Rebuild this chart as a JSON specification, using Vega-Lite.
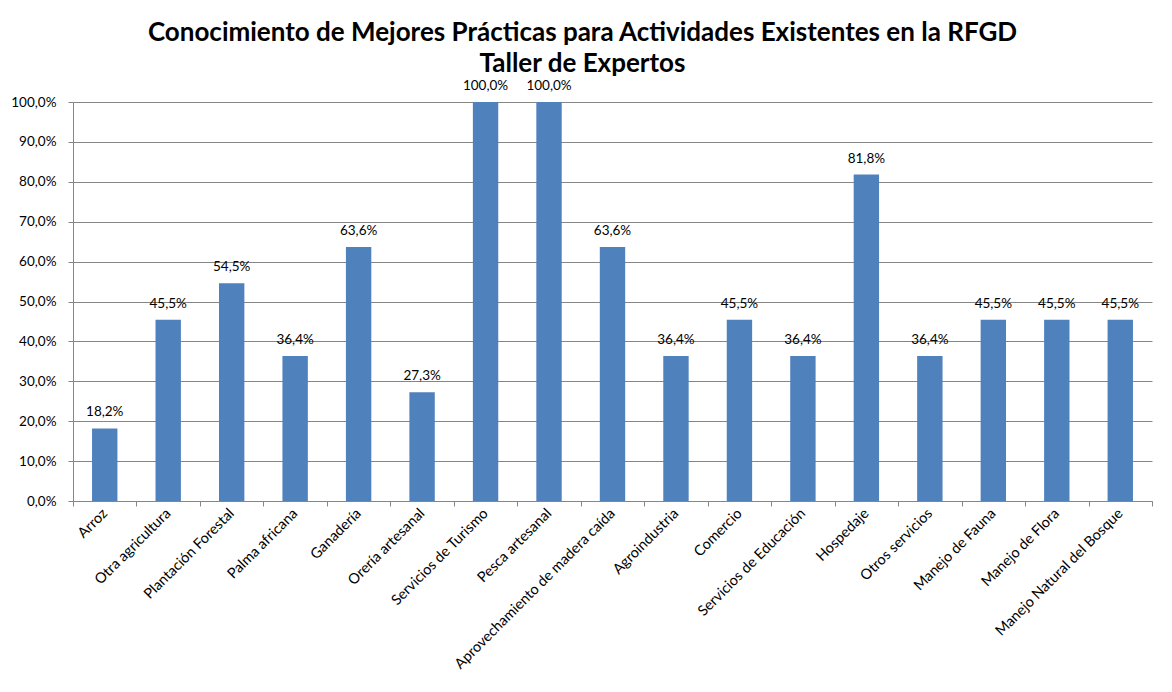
{
  "$schema": "https://vega.github.io/schema/vega-lite/v6.json",
  "width": 1079,
  "height": 399,
  "padding": {"left": 9, "top": 20, "right": 20, "bottom": 5},
  "background": "white",
  "config": {
    "locale": {"number": {"decimal": ",", "thousands": ".", "grouping": [3], "currency": ["", "€"]}},
    "view": {"stroke": null},
    "font": "Lato"
  },
  "title": {
    "text": ["Conocimiento de Mejores Prácticas para Actividades Existentes en la RFGD", "Taller de Expertos"],
    "font": "Lato",
    "fontSize": 26,
    "fontWeight": "bold",
    "color": "#000000",
    "lineHeight": 31,
    "anchor": "middle",
    "frame": "group",
    "dx": -30,
    "offset": 2
  },
  "data": {
    "values": [
      {"actividad": "Arroz", "valor": 0.1818},
      {"actividad": "Otra agricultura", "valor": 0.4545},
      {"actividad": "Plantación Forestal", "valor": 0.5455},
      {"actividad": "Palma africana", "valor": 0.3636},
      {"actividad": "Ganadería", "valor": 0.6364},
      {"actividad": "Orería artesanal", "valor": 0.2727},
      {"actividad": "Servicios de Turismo", "valor": 1.0},
      {"actividad": "Pesca artesanal", "valor": 1.0},
      {"actividad": "Aprovechamiento de madera caída", "valor": 0.6364},
      {"actividad": "Agroindustria", "valor": 0.3636},
      {"actividad": "Comercio", "valor": 0.4545},
      {"actividad": "Servicios de Educación", "valor": 0.3636},
      {"actividad": "Hospedaje", "valor": 0.8182},
      {"actividad": "Otros servicios", "valor": 0.3636},
      {"actividad": "Manejo de Fauna", "valor": 0.4545},
      {"actividad": "Manejo de Flora", "valor": 0.4545},
      {"actividad": "Manejo Natural del Bosque", "valor": 0.4545}
    ]
  },
  "encoding": {
    "x": {
      "field": "actividad",
      "type": "nominal",
      "sort": null,
      "scale": {"paddingInner": 0, "paddingOuter": 0},
      "axis": {
        "title": null,
        "labelAngle": -45,
        "labelAlign": "right",
        "labelBaseline": "middle",
        "labelFont": "Lato",
        "labelFontSize": 14.5,
        "labelColor": "#000000",
        "labelPadding": 5,
        "tickBand": "extent",
        "tickSize": 5,
        "tickColor": "#868686",
        "domainColor": "#868686",
        "labelOverlap": false,
        "labelLimit": 400,
        "grid": false
      }
    },
    "y": {
      "field": "valor",
      "type": "quantitative",
      "scale": {"domain": [0, 1], "nice": false},
      "axis": {
        "title": null,
        "format": ".1%",
        "values": [0, 0.1, 0.2, 0.3, 0.4, 0.5, 0.6, 0.7, 0.8, 0.9, 1.0],
        "labelFont": "Lato",
        "labelFontSize": 13.5,
        "labelColor": "#000000",
        "labelPadding": 12,
        "tickSize": 5,
        "tickColor": "#868686",
        "domainColor": "#868686",
        "gridColor": "#868686",
        "gridWidth": 1,
        "minExtent": 64,
        "maxExtent": 64
      }
    }
  },
  "layer": [
    {
      "mark": {"type": "bar", "color": "#4F81BD", "width": {"band": 0.4}}
    },
    {
      "mark": {"type": "text", "dy": -16, "font": "Lato", "fontSize": 13.5, "color": "#000000"},
      "encoding": {
        "text": {"field": "valor", "type": "quantitative", "format": ".1%"}
      }
    }
  ]
}
